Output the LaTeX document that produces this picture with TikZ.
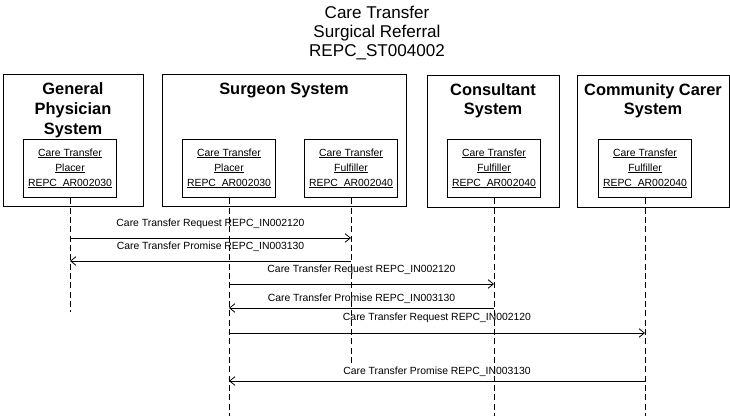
\documentclass[tikz,border=0pt]{standalone}
\usepackage{fontspec}
\setmainfont{Liberation Sans}
\usepackage{tikz}
\usetikzlibrary{arrows.meta, positioning}

% subrayado cercano a la linea base
\newcommand{\undl}[1]{\setbox0\hbox{#1}\rlap{\rule[-1.3pt]{\wd0}{0.45pt}}\box0}

\begin{document}
\begin{tikzpicture}[x=0.75pt, y=-0.75pt, >={Straight Barb[length=4pt, width=6.5pt]}]
    % Estilos para los sistemas, roles, lineas de vida y mensajes
    \tikzstyle{system} = [draw, rectangle, line width=0.75pt, minimum height=99pt, inner sep=0pt]
    \tikzstyle{systitle} = [align=center, inner sep=0pt, font=\fontsize{12.3}{14.8}\selectfont\bfseries]
    \tikzstyle{role} = [draw, rectangle, line width=0.7pt, fill=white, minimum width=70pt, minimum height=44pt, align=center, inner sep=1pt, font=\fontsize{7.8}{11.25}\selectfont]
    \tikzstyle{lifeline} = [line width=0.7pt, dash pattern=on 4.5pt off 2.5pt]
    \tikzstyle{msg} = [->, line width=0.6pt]
    \tikzstyle{msglabel} = [inner sep=0pt, font=\fontsize{7.8}{9}\selectfont]

    \useasboundingbox (0,0) rectangle (730,416);

    % Titulo
    \node[anchor=north, align=center, inner sep=0pt, font=\fontsize{12.8}{14.3}\selectfont] (title) at (377,5.5) {Care Transfer\\Surgical Referral\\REPC\_ST004002};

    % Sistemas
    \node[system, minimum width=105pt] (gp) at (73,141) {};
    \node[system, minimum width=183pt] (sg) at (284,141) {};
    \node[system, minimum width=99pt] (cn) at (493,141.5) {};
    \node[system, minimum width=114pt] (cc) at (653,141.5) {};

    \node[systitle, below=6pt of gp.north] (gpT) {General\\Physician\\System};
    \node[systitle, below=6pt of sg.north] (sgT) {Surgeon System};
    \node[systitle, below=6pt of cn.north] (cnT) {Consultant\\System};
    \node[systitle, below=6pt of cc.north] (ccT) {Community Carer\\System};

    % Roles de aplicacion
    \node[role] (gpP) at (70,168.5) {\undl{Care Transfer}\\\undl{Placer}\\\undl{REPC\_AR002030}};
    \node[role] (spP) at (229,168.5) {\undl{Care Transfer}\\\undl{Placer}\\\undl{REPC\_AR002030}};
    \node[role] (sfF) at (351,168.5) {\undl{Care Transfer}\\\undl{Fulfiller}\\\undl{REPC\_AR002040}};
    \node[role] (cnF) at (494,168.5) {\undl{Care Transfer}\\\undl{Fulfiller}\\\undl{REPC\_AR002040}};
    \node[role] (ccF) at (645,168.5) {\undl{Care Transfer}\\\undl{Fulfiller}\\\undl{REPC\_AR002040}};

    % Lineas de vida
    \draw[lifeline] (gpP.south) -- (gpP.south |- 0,312);
    \draw[lifeline] (spP.south) -- (spP.south |- 0,416);
    \draw[lifeline] (sfF.south) -- (sfF.south |- 0,363);
    \draw[lifeline] (cnF.south) -- (cnF.south |- 0,416);
    \draw[lifeline] (ccF.south) -- (ccF.south |- 0,416);

    % Mensajes
    \draw[msg] (gpP |- 0,238) -- node[msglabel, above=6.85pt] {Care Transfer Request REPC\_IN002120} (sfF |- 0,238);
    \draw[msg] (sfF |- 0,261) -- node[msglabel, above=6.85pt] {Care Transfer Promise REPC\_IN003130} (gpP |- 0,261);
    \draw[msg] (spP |- 0,284) -- node[msglabel, above=6.5pt] {Care Transfer Request REPC\_IN002120} (cnF |- 0,284);
    \draw[msg] (cnF |- 0,308) -- node[msglabel, above=2.7pt] {Care Transfer Promise REPC\_IN003130} (spP |- 0,308);
    \draw[msg] (spP |- 0,333) -- node[msglabel, above=7.2pt] {Care Transfer Request REPC\_IN002120} (ccF |- 0,333);
    \draw[msg] (ccF |- 0,381) -- node[msglabel, above=3.1pt] {Care Transfer Promise REPC\_IN003130} (spP |- 0,381);

\end{tikzpicture}
\end{document}
